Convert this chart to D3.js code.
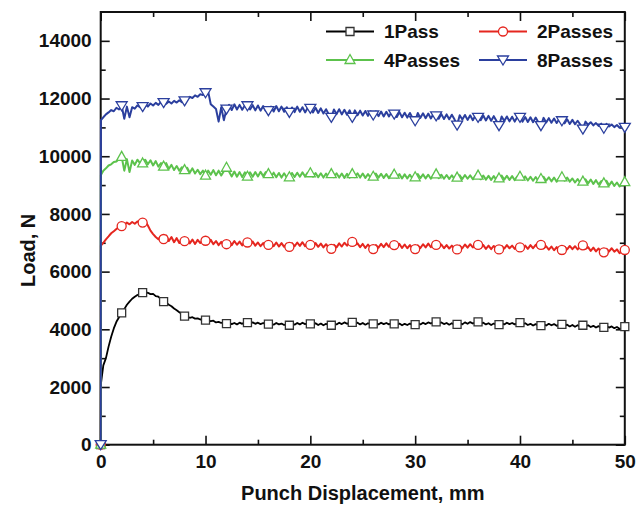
<!DOCTYPE html>
<html>
<head>
<meta charset="utf-8">
<script src="https://cdn.jsdelivr.net/npm/d3@7/dist/d3.min.js"></script>
<style>
  body { margin: 0; background: #fff; }
  text { font-family: "Liberation Sans", Arial, Helvetica, sans-serif; font-weight: bold; fill: #111; }
</style>
</head>
<body>
<svg id="chart" width="644" height="505"></svg>
<script>
// Punch displacement (mm): origin, first reading, then every 0.25 mm up to 50 mm
const disp = [0, 0.02].concat(d3.range(1, 201).map(i => i * 0.25));

// Load (N) for each number of passes, one value per displacement
const load1Pass = [0, 2100,
  2750, 3000, 3400, 3740, 4030, 4260, 4420, 4570,
  4700, 4850, 4960, 5060, 5130, 5190, 5230, 5270,
  5250, 5270, 5220, 5230, 5150, 5130, 5040, 4960,
  4920, 4850, 4800, 4720, 4660, 4590, 4530, 4460,
  4440, 4400, 4420, 4370, 4380, 4340, 4350, 4320,
  4300, 4280, 4300, 4240, 4260, 4220, 4240, 4200,
  4230, 4180, 4220, 4170, 4230, 4190, 4240, 4230,
  4200, 4240, 4190, 4230, 4180, 4220, 4170, 4180,
  4210, 4160, 4220, 4170, 4200, 4150, 4190, 4140,
  4200, 4160, 4220, 4170, 4230, 4180, 4210, 4190,
  4160, 4210, 4150, 4200, 4140, 4190, 4150, 4140,
  4200, 4170, 4230, 4180, 4240, 4190, 4230, 4240,
  4190, 4230, 4170, 4220, 4160, 4210, 4170, 4190,
  4220, 4170, 4230, 4180, 4220, 4170, 4210, 4190,
  4150, 4200, 4140, 4190, 4150, 4200, 4140, 4160,
  4210, 4170, 4230, 4180, 4240, 4200, 4250, 4260,
  4210, 4240, 4180, 4220, 4160, 4210, 4160, 4170,
  4220, 4170, 4240, 4190, 4250, 4200, 4240, 4260,
  4200, 4230, 4170, 4210, 4150, 4200, 4150, 4160,
  4210, 4170, 4230, 4180, 4220, 4170, 4210, 4230,
  4180, 4210, 4150, 4190, 4130, 4180, 4120, 4130,
  4180, 4130, 4190, 4140, 4180, 4120, 4170, 4170,
  4120, 4160, 4100, 4150, 4090, 4140, 4090, 4140,
  4100, 4140, 4080, 4120, 4060, 4110, 4050, 4070,
  4110, 4060, 4100, 4040, 4080, 4020, 4010, 4090];

const load2Passes = [0, 6900,
  7000, 7120, 7220, 7330, 7400, 7480, 7530, 7580,
  7620, 7700, 7640, 7720, 7660, 7740, 7680, 7700,
  7760, 7600, 7420, 7300, 7200, 7120, 7230, 7130,
  7250, 7060, 7200, 7020, 7160, 6990, 7120, 7060,
  7150, 6980, 7110, 6960, 7100, 6990, 7080, 7070,
  6980, 7100, 6950, 7060, 6920, 7030, 6900, 6950,
  7050, 6920, 7060, 6930, 7040, 6910, 7030, 7010,
  6920, 7040, 6900, 7010, 6880, 6990, 6870, 6930,
  7000, 6880, 7010, 6870, 6990, 6860, 6970, 6860,
  6990, 6880, 7010, 6890, 7020, 6880, 7000, 6930,
  6870, 6990, 6860, 6970, 6840, 6950, 6830, 6790,
  6930, 6840, 6980, 6870, 7000, 6900, 7010, 7030,
  6920, 6980, 6850, 6960, 6820, 6940, 6820, 6780,
  6920, 6830, 6960, 6850, 6980, 6860, 6960, 6920,
  6840, 6960, 6820, 6940, 6810, 6920, 6800, 6780,
  6910, 6820, 6950, 6840, 6970, 6850, 6960, 6930,
  6830, 6940, 6810, 6920, 6800, 6900, 6790, 6770,
  6900, 6810, 6940, 6830, 6950, 6840, 6940, 6930,
  6820, 6920, 6790, 6900, 6780, 6890, 6780, 6770,
  6890, 6800, 6920, 6810, 6900, 6790, 6880, 6840,
  6780, 6900, 6790, 6920, 6810, 6930, 6820, 6930,
  6800, 6880, 6760, 6870, 6740, 6850, 6730, 6750,
  6860, 6770, 6890, 6780, 6880, 6770, 6860, 6910,
  6790, 6850, 6720, 6830, 6700, 6800, 6690, 6670,
  6790, 6700, 6810, 6690, 6770, 6640, 6720, 6750];

const load4Passes = [0, 9350,
  9500, 9580, 9680, 9720, 9800, 9820, 9900, 9980,
  9500, 9900, 9450, 9850, 9700, 9880, 9760, 9750,
  9880, 9720, 9860, 9680, 9830, 9640, 9760, 9640,
  9760, 9560, 9700, 9520, 9660, 9500, 9620, 9520,
  9600, 9430, 9580, 9400, 9530, 9380, 9500, 9330,
  9500, 9360, 9520, 9340, 9500, 9330, 9480, 9600,
  9460, 9300, 9470, 9290, 9450, 9280, 9440, 9290,
  9440, 9290, 9450, 9300, 9460, 9310, 9450, 9380,
  9290, 9430, 9270, 9420, 9260, 9410, 9260, 9270,
  9420, 9280, 9430, 9290, 9440, 9300, 9430, 9410,
  9290, 9420, 9270, 9410, 9260, 9400, 9280, 9380,
  9270, 9410, 9260, 9400, 9250, 9390, 9260, 9380,
  9270, 9410, 9260, 9400, 9250, 9380, 9260, 9290,
  9400, 9260, 9390, 9250, 9380, 9240, 9370, 9360,
  9250, 9380, 9230, 9370, 9230, 9360, 9220, 9270,
  9380, 9240, 9370, 9230, 9360, 9220, 9350, 9370,
  9240, 9360, 9220, 9350, 9210, 9340, 9200, 9260,
  9340, 9210, 9350, 9220, 9340, 9200, 9330, 9330,
  9200, 9330, 9190, 9320, 9180, 9310, 9180, 9230,
  9330, 9190, 9320, 9180, 9310, 9170, 9300, 9290,
  9180, 9300, 9160, 9290, 9150, 9280, 9140, 9210,
  9290, 9150, 9270, 9130, 9260, 9120, 9250, 9270,
  9150, 9260, 9120, 9230, 9090, 9210, 9080, 9120,
  9200, 9060, 9190, 9040, 9170, 9020, 9140, 9060,
  9150, 8990, 9120, 8970, 9090, 8950, 9050, 9100];

const load8Passes = [0, 11250,
  11350, 11450, 11520, 11600, 11560, 11680, 11620, 11750,
  11300, 11720, 11350, 11700, 11650, 11760, 11700, 11720,
  11800, 11720, 11830, 11760, 11850, 11780, 11880, 11860,
  11820, 11900, 11830, 11920, 11860, 11940, 11870, 11920,
  12000, 12060, 12020, 12110, 12060, 12150, 12120, 12200,
  12250, 11800, 11720, 11640, 11200, 11700, 11250, 11630,
  11780, 11600, 11800, 11620, 11780, 11610, 11760, 11750,
  11620, 11770, 11590, 11760, 11580, 11740, 11570, 11580,
  11720, 11550, 11740, 11560, 11720, 11540, 11700, 11520,
  11690, 11530, 11720, 11540, 11700, 11520, 11680, 11660,
  11520, 11680, 11500, 11660, 11480, 11630, 11460, 11350,
  11620, 11460, 11630, 11450, 11610, 11440, 11590, 11350,
  11590, 11420, 11580, 11410, 11570, 11400, 11560, 11430,
  11560, 11390, 11550, 11380, 11540, 11380, 11530, 11460,
  11360, 11530, 11350, 11510, 11340, 11500, 11330, 11230,
  11500, 11330, 11490, 11320, 11480, 11310, 11470, 11400,
  11300, 11460, 11290, 11450, 11280, 11440, 11280, 11080,
  11420, 11270, 11430, 11260, 11420, 11250, 11410, 11350,
  11250, 11410, 11240, 11400, 11230, 11390, 11230, 11060,
  11380, 11220, 11380, 11210, 11370, 11200, 11360, 11350,
  11200, 11360, 11190, 11350, 11180, 11340, 11180, 11060,
  11330, 11170, 11320, 11160, 11310, 11150, 11290, 11230,
  11140, 11280, 11120, 11260, 11110, 11230, 11100, 10940,
  11200, 11090, 11180, 11070, 11150, 11050, 11130, 10970,
  11120, 11030, 11100, 11010, 11080, 10990, 11060, 11000];

const seriesNames = ["1Pass", "2Passes", "4Passes", "8Passes"];
const seriesLoads = [load1Pass, load2Passes, load4Passes, load8Passes];
const seriesColors = ["#000000", "#e5261f", "#5cc24c", "#2b3f9e"];
const seriesSymbols = ["square", "circle", "triUp", "triDown"];

const xTicks = [0, 10, 20, 30, 40, 50];
const yTicks = [0, 2000, 4000, 6000, 8000, 10000, 12000, 14000];
const xMinor = [5, 15, 25, 35, 45];
const yMinor = [1000, 3000, 5000, 7000, 9000, 11000, 13000];

const svg = d3.select("#chart");
const plotL = 100.7, plotR = 624.8, plotT = 12, plotB = 444.7;

const x = d3.scaleLinear().domain([0, 50]).range([plotL, plotR]);
const y = d3.scaleLinear().domain([0, 15000]).range([plotB, plotT]);

// Axes: major ticks point inward, with shorter minor ticks between them
function styleAxis(g) {
  g.select(".domain").remove();
  g.selectAll(".tick line").attr("stroke", "#111").attr("stroke-width", 1.6);
  g.selectAll(".tick text").attr("font-size", 19).attr("fill", "#111");
}
svg.append("g").attr("transform", `translate(0,${plotB})`)
  .call(d3.axisBottom(x).tickValues(xTicks).tickSize(-9).tickPadding(10).tickFormat(d3.format("d")))
  .call(styleAxis);
svg.append("g").attr("transform", `translate(0,${plotB})`)
  .call(d3.axisBottom(x).tickValues(xMinor).tickSize(-5).tickFormat(""))
  .call(styleAxis);
svg.append("g").attr("transform", `translate(0,${plotT})`)
  .call(d3.axisTop(x).tickValues(xTicks).tickSize(-9).tickFormat(""))
  .call(styleAxis);
svg.append("g").attr("transform", `translate(0,${plotT})`)
  .call(d3.axisTop(x).tickValues(xMinor).tickSize(-5).tickFormat(""))
  .call(styleAxis);
svg.append("g").attr("transform", `translate(${plotL},0)`)
  .call(d3.axisLeft(y).tickValues(yTicks).tickSize(-9).tickPadding(9).tickFormat(d3.format("d")))
  .call(styleAxis);
svg.append("g").attr("transform", `translate(${plotL},0)`)
  .call(d3.axisLeft(y).tickValues(yMinor).tickSize(-5).tickFormat(""))
  .call(styleAxis);
svg.append("g").attr("transform", `translate(${plotR},0)`)
  .call(d3.axisRight(y).tickValues(yTicks).tickSize(-9).tickFormat(""))
  .call(styleAxis);
svg.append("g").attr("transform", `translate(${plotR},0)`)
  .call(d3.axisRight(y).tickValues(yMinor).tickSize(-5).tickFormat(""))
  .call(styleAxis);

svg.append("rect")
  .attr("x", plotL).attr("y", plotT)
  .attr("width", plotR - plotL).attr("height", plotB - plotT)
  .attr("fill", "none").attr("stroke", "#111").attr("stroke-width", 2);

// Axis titles
svg.append("text")
  .attr("x", (plotL + plotR) / 2).attr("y", 500)
  .attr("text-anchor", "middle").attr("font-size", 20)
  .text("Punch Displacement, mm");
svg.append("text")
  .attr("transform", `translate(35,${(plotT + plotB) / 2 + 22}) rotate(-90)`)
  .attr("text-anchor", "middle").attr("font-size", 20)
  .text("Load, N");

// Marker shapes
function markerPath(kind) {
  if (kind === "circle") return d3.symbol(d3.symbolCircle, 64)();
  if (kind === "triUp") return "M0,-5.5L5,3.5L-5,3.5Z";
  if (kind === "triDown") return "M0,5L5.5,-4L-5.5,-4Z";
  return d3.symbol(d3.symbolSquare, 64)();
}

const line = d3.line().x((d, i) => x(disp[i])).y(d => y(d));
const markerIdx = [0].concat(d3.range(1, 26).map(k => 8 * k + 1));

seriesLoads.forEach((loads, s) => {
  const g = svg.append("g");
  g.append("path")
    .attr("d", line(loads))
    .attr("fill", "none")
    .attr("stroke", seriesColors[s])
    .attr("stroke-width", s === 0 ? 1.8 : 2)
    .attr("stroke-linejoin", "round");
  g.selectAll("path.mk")
    .data(markerIdx)
    .join("path")
    .attr("class", "mk")
    .attr("transform", i => `translate(${x(disp[i])},${y(loads[i])})`)
    .attr("d", markerPath(seriesSymbols[s]))
    .attr("fill", "#fff")
    .attr("stroke", s === 0 ? "#333" : seriesColors[s])
    .attr("stroke-width", 1.3);
});

// Legend, two columns by two rows
const legendPos = [[326, 31.5], [479, 31.5], [326, 60], [479, 60]];
seriesNames.forEach((name, s) => {
  const [lx, ly] = legendPos[s];
  const g = svg.append("g").attr("transform", `translate(${lx},${ly})`);
  g.append("line").attr("x1", 0).attr("x2", 48).attr("y1", 0).attr("y2", 0)
    .attr("stroke", seriesColors[s]).attr("stroke-width", 2);
  g.append("path").attr("transform", "translate(24,0)")
    .attr("d", markerPath(seriesSymbols[s]))
    .attr("fill", "#fff")
    .attr("stroke", s === 0 ? "#333" : seriesColors[s])
    .attr("stroke-width", 1.3);
  g.append("text").attr("x", 58).attr("y", 6.5)
    .attr("font-size", 19).text(name);
});
</script>
</body>
</html>
